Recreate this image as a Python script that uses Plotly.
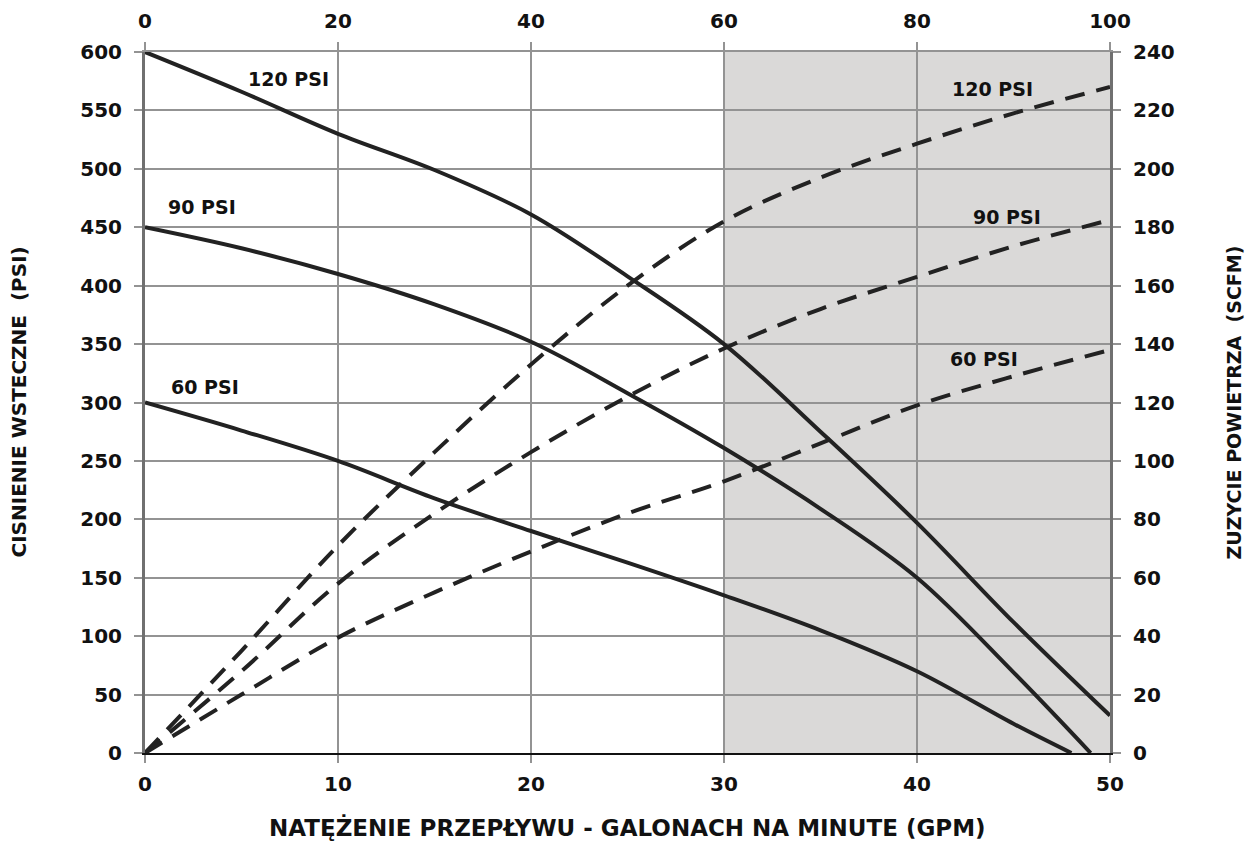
import plotly.graph_objects as go

# Flow (GPM)
gpm = [0, 5, 10, 15, 20, 25, 30, 35, 40, 45, 50]

# Back pressure (PSI) - solid curves, left axis
bp_120_x = [0, 5, 10, 15, 20, 25, 30, 35, 40, 45, 50]
bp_120 = [600, 566, 530, 499, 461, 408, 350, 275, 197, 112, 32]
bp_90_x = [0, 5, 10, 15, 20, 25, 30, 35, 40, 45, 49]
bp_90 = [450, 432, 410, 384, 352, 308, 261, 209, 150, 69, 0]
bp_60_x = [0, 5, 10, 15, 20, 25, 30, 35, 40, 45, 48]
bp_60 = [300, 276, 250, 218, 190, 163, 135, 105, 70, 25, 0]

# Air consumption (SCFM) - dashed curves, right axis
air_120 = [0, 35, 71, 103, 133, 160, 182, 197, 208.6, 219, 228]
air_90 = [0, 28, 58, 82, 103, 122, 138.5, 152, 163, 173.5, 182.5]
air_60 = [0, 20, 39.5, 55, 69, 82, 93, 106, 119, 129, 138]

labels_left = ["120 PSI", "90 PSI", "60 PSI"]
labels_left_pos = [(7.45, 577), (2.95, 467), (3.1, 313)]
labels_right = ["120 PSI", "90 PSI", "60 PSI"]
labels_right_pos = [(43.9, 568), (44.65, 459), (43.45, 337)]

x_ticks = [0, 10, 20, 30, 40, 50]
x_top_ticks = [0, 20, 40, 60, 80, 100]
y_ticks = list(range(0, 601, 50))
y2_ticks = list(range(0, 241, 20))

FONT = "DejaVu Sans"
LINE = "#222222"
GRID = "#939393"

fig = go.Figure()

for xs, ys in [(bp_120_x, bp_120), (bp_90_x, bp_90), (bp_60_x, bp_60)]:
    fig.add_trace(go.Scatter(x=xs, y=ys, mode="lines",
                             line=dict(color=LINE, width=4, shape="spline", smoothing=1.0),
                             showlegend=False, hoverinfo="skip"))

for ys in [air_120, air_90, air_60]:
    fig.add_trace(go.Scatter(x=gpm, y=ys, mode="lines", yaxis="y2",
                             line=dict(color=LINE, width=4, shape="spline", smoothing=1.0,
                                       dash="20px,12px"),
                             showlegend=False, hoverinfo="skip"))

# dummy trace for top axis
fig.add_trace(go.Scatter(x=[0, 100], y=[None, None], xaxis="x2", mode="lines",
                         showlegend=False, hoverinfo="skip"))

fig.add_shape(type="rect", xref="x", yref="y", x0=30, x1=50, y0=0, y1=600,
              fillcolor="#dad9d8", line=dict(width=0), layer="below")

lblfont = dict(family=FONT, size=19, color="#111", weight="bold")
for txt, (x, y) in zip(labels_left, labels_left_pos):
    fig.add_annotation(x=x, y=y, text=txt, showarrow=False, font=lblfont)
for txt, (x, y) in zip(labels_right, labels_right_pos):
    fig.add_annotation(x=x, y=y, text=txt, showarrow=False, font=lblfont)

tickfont = dict(family=FONT, size=20, color="#111", weight="bold")

fig.update_layout(
    width=1249, height=855,
    margin=dict(l=145, r=139, t=52, b=102, autoexpand=False),
    paper_bgcolor="white", plot_bgcolor="white",
    xaxis=dict(range=[0, 50], tickvals=x_ticks, showgrid=True, gridcolor=GRID, gridwidth=1.5,
               zeroline=False, showline=True, linecolor="#111", linewidth=2,
               ticks="outside", ticklen=8, tickcolor=GRID, tickwidth=1.5,
               tickfont=tickfont, ticklabelstandoff=4, automargin=False),
    xaxis2=dict(range=[0, 100], tickvals=x_top_ticks, overlaying="x", side="top",
                showgrid=False, zeroline=False, showline=True, linecolor=GRID, linewidth=2,
                ticks="outside", ticklen=8, tickcolor=GRID, tickwidth=1.5,
                tickfont=tickfont, ticklabelstandoff=6, automargin=False),
    yaxis=dict(range=[0, 600], tickvals=y_ticks, showgrid=True, gridcolor=GRID, gridwidth=1.5,
               zeroline=False, showline=True, linecolor="#707070", linewidth=3,
               ticks="outside", ticklen=8, tickcolor=GRID, tickwidth=1.5,
               tickfont=tickfont, ticklabelstandoff=8, automargin=False),
    yaxis2=dict(range=[0, 240], tickvals=y2_ticks, overlaying="y", side="right",
                showgrid=False, zeroline=False, showline=True, linecolor="#707070", linewidth=3,
                ticks="outside", ticklen=8, tickcolor=GRID, tickwidth=1.5,
                tickfont=tickfont, ticklabelstandoff=8, automargin=False),
)

fig.add_annotation(xref="paper", yref="paper", x=0.5, y=-0.1056, yanchor="middle",
                   xanchor="center",
                   text="NATĘŻENIE PRZEPŁYWU - GALONACH NA MINUTE (GPM)", showarrow=False,
                   font=dict(family=FONT, size=23, color="#111", weight="bold"))
fig.add_annotation(xref="paper", yref="paper", x=-0.1316, y=0.5, textangle=-90,
                   xanchor="center", yanchor="middle",
                   text="CISNIENIE WSTECZNE  (PSI)", showarrow=False,
                   font=dict(family=FONT, size=20, color="#111", weight="bold"))
fig.add_annotation(xref="paper", yref="paper", x=1.1275, y=0.5, textangle=-90,
                   xanchor="center", yanchor="middle",
                   text="ZUZYCIE POWIETRZA  (SCFM)", showarrow=False,
                   font=dict(family=FONT, size=19, color="#111", weight="bold"))

fig.write_html("out.html", config={"displayModeBar": False},
               post_script="document.body.style.margin='0px';")
